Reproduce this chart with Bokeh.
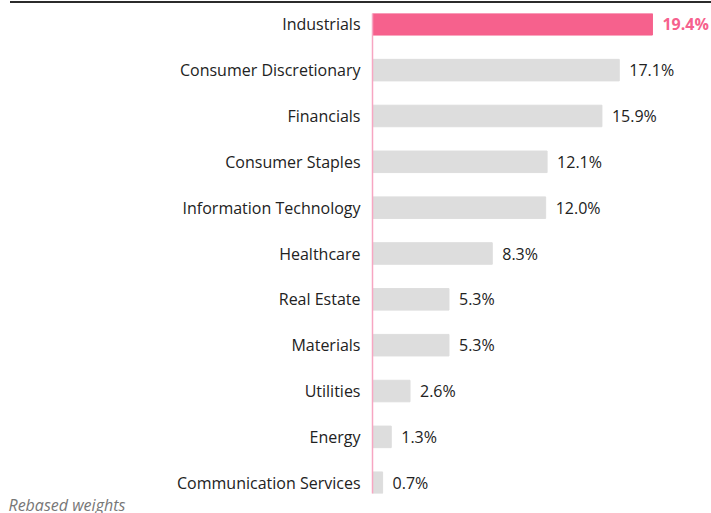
from bokeh.plotting import figure
from bokeh.models import Range1d, FixedTicker, Title, ColumnDataSource
from bokeh.core.properties import value, field
from bokeh.embed import file_html
from bokeh.resources import INLINE

categories = ["Industrials", "Consumer Discretionary", "Financials", "Consumer Staples",
              "Information Technology", "Healthcare", "Real Estate", "Materials",
              "Utilities", "Energy", "Communication Services"]
weights = [19.4, 17.1, 15.9, 12.1, 12.0, 8.3, 5.3, 5.3, 2.6, 1.3, 0.7]
highlight = "Industrials"
footnote = "Rebased weights"

PINK = "#f6618d"
GREY = "#dddddd"
AXIS_PINK = "#f7a6c2"
TEXT = "#222222"
FONT = "Open Sans"

W, H = 711, 513
LEFT, TOP, BOTTOM, RIGHT = 372, 13, 20, 0
BAR_H = 0.47
PX_PER = 14.43

n = len(categories)
ys = list(range(n))
frame_w = W - LEFT - RIGHT
x_end = frame_w / PX_PER

src = ColumnDataSource(dict(
    y=ys,
    w=weights,
    color=[PINK if c == highlight else GREY for c in categories],
    label=[f"{v:.1f}%" for v in weights],
    tcolor=[PINK if c == highlight else TEXT for c in categories],
    fstyle=["bold" if c == highlight else "normal" for c in categories],
))

p = figure(width=W, height=H, output_backend="svg", toolbar_location=None,
           x_range=Range1d(0, x_end),
           y_range=Range1d(n - 1 + BAR_H / 2, -BAR_H / 2),
           x_axis_location=None,
           min_border_left=LEFT, min_border_right=RIGHT,
           min_border_top=TOP, min_border_bottom=BOTTOM)
# thin dark rule along the top of the page, drawn behind a transparent canvas
p.styles = {"background": "linear-gradient(#2b2b2b, #2b2b2b) 10px 1px / 701px 2px no-repeat, white"}
p.outline_line_color = None
p.grid.visible = False
p.background_fill_color = None
p.border_fill_color = None

p.hbar(y="y", left=0, right="w", height=BAR_H, color="color", source=src)
p.text(x="w", y="y", text="label", source=src, x_offset=10,
       text_align="left", text_baseline="middle",
       text_color="tcolor", text_font=value(FONT), text_font_size="16px",
       text_font_style=field("fstyle"))

ax = p.yaxis[0]
ax.ticker = FixedTicker(ticks=ys)
ax.major_label_overrides = {i: c for i, c in enumerate(categories)}
ax.axis_line_color = AXIS_PINK
ax.axis_line_width = 1.5
ax.major_tick_line_color = None
ax.minor_tick_line_color = None
ax.major_tick_out = 0
ax.major_tick_in = 0
ax.major_label_standoff = 12
ax.major_label_text_font = FONT
ax.major_label_text_font_size = "16px"
ax.major_label_text_color = TEXT

note = Title(text=footnote, align="left", offset=-(LEFT - 8), standoff=-4,
             text_font=FONT, text_font_size="16px", text_font_style="italic",
             text_color="#777777")
p.add_layout(note, "below")

open("out.html", "w").write(file_html(p, INLINE))
